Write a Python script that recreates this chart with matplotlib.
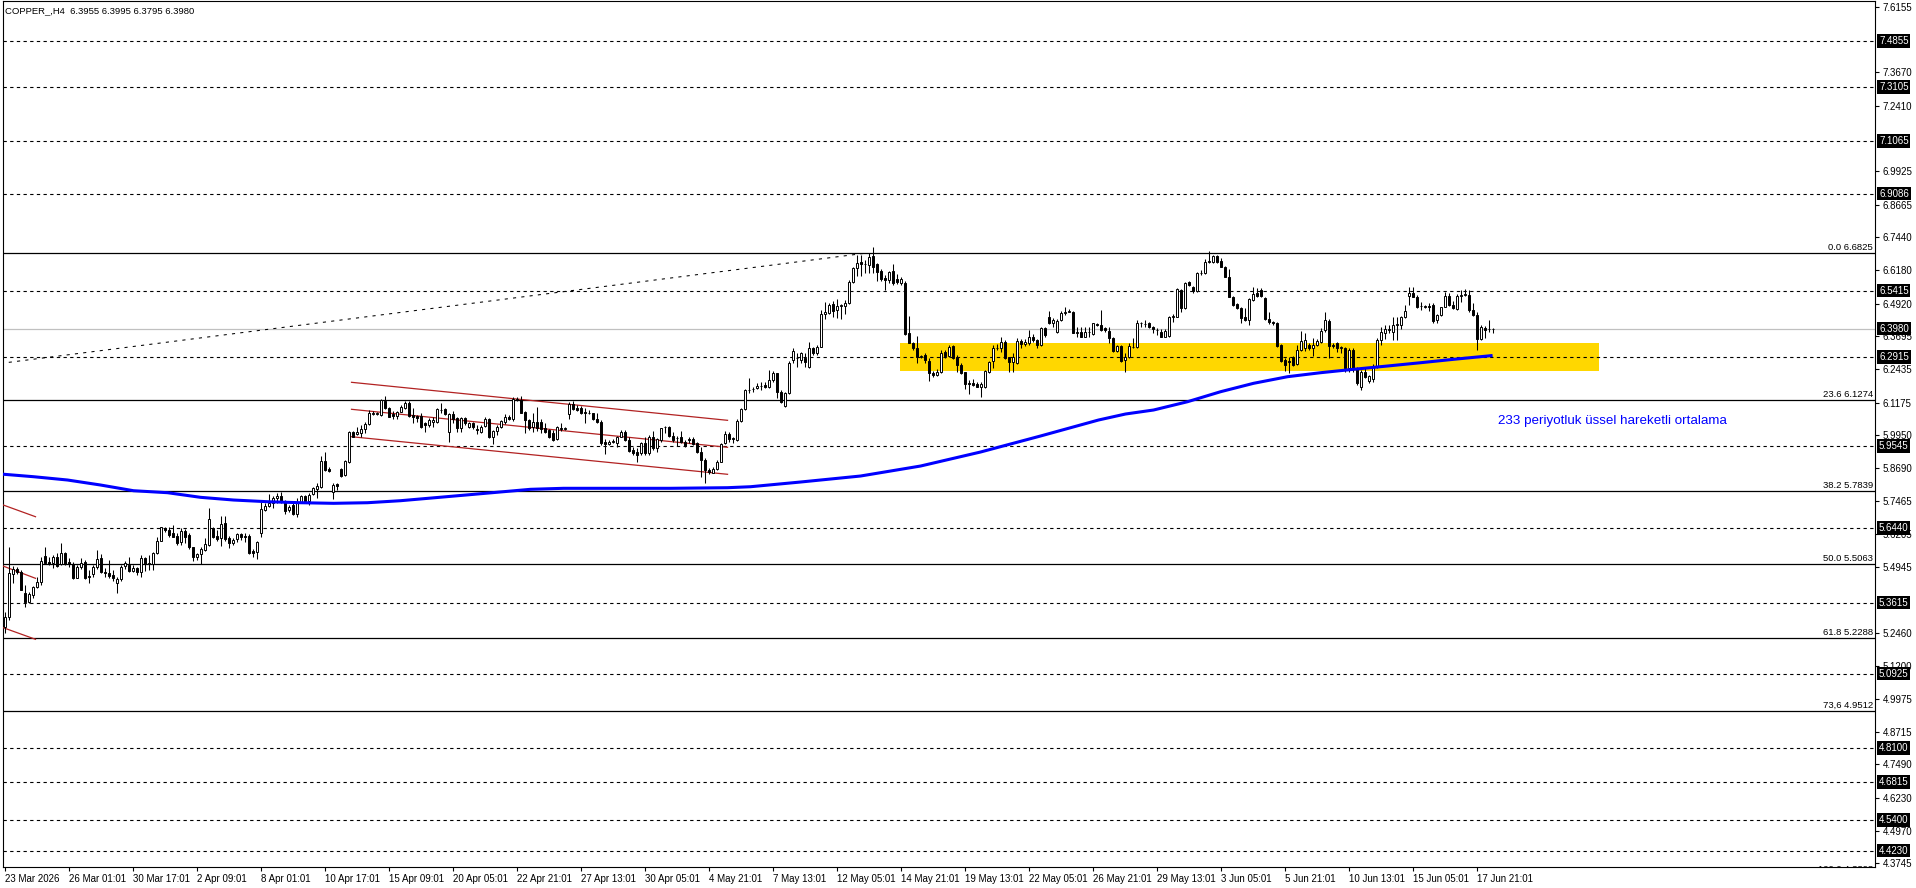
import matplotlib
matplotlib.use("Agg")
import matplotlib.pyplot as plt
import matplotlib.transforms as mtransforms
import numpy as np

plt.rcParams['font.family'] = ['Liberation Sans', 'DejaVu Sans']

title_text = "COPPER_,H4  6.3955 6.3995 6.3795 6.3980"

opens = [
5.270,5.308,5.469,5.487,5.478,5.399,5.365,5.390,5.419,5.438,
5.539,5.516,5.510,5.535,5.507,5.548,5.513,5.506,5.456,5.497,
5.516,5.462,5.469,5.497,5.529,5.478,5.475,5.466,5.434,5.449,
5.500,5.503,5.482,5.491,5.478,5.531,5.506,5.506,5.548,5.595,
5.642,5.636,5.623,5.613,5.592,5.633,5.617,5.570,5.533,5.544,
5.560,5.579,5.642,5.614,5.604,5.661,5.604,5.585,5.602,5.621,
5.613,5.613,5.557,5.554,5.623,5.712,5.727,5.739,5.758,5.765,
5.743,5.712,5.731,5.695,5.743,5.765,5.747,5.772,5.791,5.800,
5.897,5.867,5.781,5.809,5.868,5.844,5.894,6.008,5.999,6.004,
6.017,6.036,6.075,6.075,6.071,6.125,6.099,6.075,6.068,6.084,
6.096,6.115,6.071,6.067,6.068,6.039,6.033,6.046,6.046,6.090,
6.092,6.008,6.075,6.058,6.020,6.058,6.027,6.039,6.017,6.008,
6.029,6.055,5.989,6.012,6.027,6.046,6.064,6.056,6.130,6.128,
6.081,6.052,6.024,6.046,6.046,6.020,6.014,6.004,5.979,6.020,
6.018,6.075,6.111,6.099,6.096,6.084,6.080,6.077,6.056,6.043,
5.969,5.961,5.970,5.966,5.989,6.005,5.976,5.938,5.932,5.926,
5.966,5.926,5.986,5.945,5.976,6.024,6.027,5.991,5.983,5.989,
5.970,5.979,5.979,5.964,5.931,5.901,5.863,5.853,5.865,5.894,
5.964,5.998,5.983,5.976,6.048,6.092,6.165,6.168,6.172,6.181,
6.184,6.178,6.203,6.229,6.159,6.105,6.155,6.279,6.285,6.279,
6.285,6.254,6.323,6.304,6.329,6.453,6.458,6.490,6.468,6.483,
6.485,6.493,6.575,6.626,6.648,6.642,6.638,6.672,6.642,6.616,
6.588,6.582,6.616,6.584,6.571,6.569,6.380,6.345,6.323,6.289,
6.298,6.276,6.231,6.222,6.235,6.308,6.295,6.332,6.292,6.260,
6.232,6.193,6.193,6.188,6.178,6.178,6.235,6.277,6.323,6.326,
6.346,6.289,6.273,6.266,6.351,6.338,6.345,6.365,6.355,6.336,
6.399,6.440,6.420,6.386,6.430,6.458,6.462,6.462,6.382,6.386,
6.367,6.386,6.377,6.414,6.412,6.399,6.390,6.361,6.314,6.332,
6.279,6.292,6.329,6.327,6.418,6.415,6.418,6.403,6.393,6.386,
6.367,6.370,6.443,6.443,6.544,6.474,6.575,6.556,6.540,6.607,
6.607,6.651,6.651,6.674,6.655,6.632,6.594,6.519,6.491,6.477,
6.443,6.430,6.506,6.531,6.544,6.512,6.433,6.424,6.418,6.336,
6.279,6.276,6.289,6.263,6.317,6.323,6.336,6.323,6.336,6.348,
6.393,6.428,6.336,6.342,6.323,6.323,6.248,6.317,6.248,6.178,
6.235,6.201,6.206,6.254,6.355,6.382,6.393,6.386,6.412,6.412,
6.440,6.521,6.534,6.519,6.483,6.481,6.483,6.487,6.430,6.449,
6.481,6.521,6.487,6.471,6.521,6.525,6.525,6.468,6.449,6.357,
6.401,6.395,6.3955]

highs = [
5.327,5.573,5.500,5.497,5.485,5.428,5.403,5.424,5.459,5.535,
5.573,5.535,5.541,5.550,5.585,5.554,5.529,5.516,5.503,5.529,
5.522,5.485,5.503,5.560,5.545,5.491,5.522,5.485,5.459,5.503,
5.517,5.535,5.503,5.497,5.541,5.535,5.541,5.552,5.611,5.648,
5.648,5.648,5.655,5.623,5.642,5.638,5.623,5.573,5.550,5.573,
5.604,5.718,5.648,5.636,5.689,5.689,5.614,5.604,5.626,5.623,
5.623,5.621,5.564,5.594,5.743,5.739,5.772,5.765,5.775,5.781,
5.749,5.731,5.737,5.756,5.768,5.768,5.777,5.800,5.812,5.916,
5.932,5.875,5.815,5.815,5.872,5.901,6.010,6.012,6.024,6.033,
6.046,6.090,6.087,6.084,6.130,6.143,6.102,6.087,6.087,6.109,
6.124,6.124,6.096,6.071,6.077,6.046,6.058,6.064,6.096,6.118,
6.096,6.077,6.087,6.064,6.062,6.064,6.046,6.046,6.033,6.033,
6.064,6.058,6.014,6.033,6.052,6.075,6.071,6.138,6.140,6.143,
6.087,6.056,6.077,6.102,6.055,6.039,6.018,6.014,6.031,6.039,
6.027,6.119,6.125,6.109,6.105,6.096,6.090,6.080,6.077,6.052,
5.979,5.976,5.979,5.991,6.014,6.014,5.986,5.951,5.945,5.970,
5.986,5.995,6.012,5.983,6.023,6.029,6.031,6.008,5.991,6.012,
5.976,5.989,5.989,5.970,5.951,5.907,5.869,5.873,5.901,5.966,
6.012,6.008,5.989,6.055,6.096,6.170,6.212,6.178,6.191,6.197,
6.197,6.241,6.239,6.231,6.165,6.159,6.275,6.323,6.304,6.311,
6.304,6.348,6.329,6.336,6.468,6.500,6.493,6.503,6.508,6.491,
6.506,6.582,6.632,6.676,6.676,6.657,6.685,6.705,6.645,6.622,
6.600,6.617,6.642,6.604,6.594,6.579,6.445,6.348,6.370,6.298,
6.304,6.285,6.239,6.244,6.317,6.317,6.336,6.336,6.298,6.269,
6.235,6.203,6.206,6.197,6.197,6.241,6.277,6.336,6.340,6.367,
6.355,6.292,6.304,6.361,6.357,6.357,6.392,6.377,6.357,6.403,
6.403,6.466,6.437,6.433,6.466,6.481,6.471,6.466,6.405,6.403,
6.403,6.405,6.420,6.418,6.468,6.405,6.403,6.365,6.336,6.336,
6.304,6.342,6.361,6.430,6.424,6.430,6.424,6.408,6.399,6.395,
6.395,6.445,6.453,6.550,6.546,6.575,6.579,6.559,6.613,6.619,
6.660,6.693,6.676,6.676,6.664,6.635,6.622,6.521,6.496,6.481,
6.474,6.512,6.554,6.550,6.550,6.516,6.462,6.428,6.424,6.340,
6.285,6.289,6.294,6.336,6.390,6.380,6.342,6.361,6.357,6.399,
6.462,6.433,6.345,6.348,6.332,6.329,6.323,6.323,6.251,6.241,
6.248,6.222,6.264,6.361,6.403,6.411,6.411,6.440,6.443,6.445,
6.487,6.554,6.554,6.525,6.500,6.487,6.493,6.493,6.453,6.481,
6.538,6.531,6.503,6.529,6.544,6.546,6.544,6.493,6.462,6.411,
6.408,6.430,6.3995]

lows = [
5.245,5.295,5.434,5.469,5.409,5.346,5.359,5.377,5.415,5.428,
5.510,5.503,5.491,5.497,5.503,5.503,5.497,5.451,5.453,5.487,
5.451,5.437,5.459,5.487,5.472,5.459,5.453,5.444,5.396,5.444,
5.487,5.478,5.478,5.466,5.459,5.482,5.485,5.485,5.545,5.593,
5.630,5.611,5.608,5.579,5.579,5.588,5.565,5.520,5.522,5.507,
5.558,5.575,5.604,5.595,5.577,5.594,5.569,5.579,5.592,5.598,
5.592,5.544,5.533,5.526,5.611,5.708,5.724,5.718,5.737,5.737,
5.695,5.705,5.693,5.684,5.737,5.739,5.731,5.768,5.756,5.794,
5.860,5.857,5.754,5.787,5.838,5.840,5.888,5.986,5.995,5.989,
6.004,6.033,6.071,6.071,6.068,6.092,6.062,6.056,6.056,6.081,
6.092,6.064,6.039,6.046,6.020,6.008,6.027,6.024,6.042,6.077,
6.071,5.970,6.039,6.005,6.005,6.033,6.020,6.018,5.999,6.001,
6.024,5.983,5.960,5.995,6.020,6.037,6.052,6.050,6.125,6.077,
6.004,6.014,6.008,6.012,6.001,6.001,5.983,5.974,5.976,6.012,
6.014,6.055,6.090,6.087,6.073,6.042,6.075,6.052,6.039,5.957,
5.922,5.957,5.964,5.951,5.986,5.973,5.932,5.920,5.894,5.920,
5.920,5.920,5.938,5.932,5.970,6.004,5.989,5.970,5.954,5.966,
5.949,5.966,5.957,5.926,5.835,5.812,5.848,5.850,5.863,5.892,
5.961,5.970,5.966,5.973,6.046,6.090,6.155,6.159,6.168,6.165,
6.172,6.172,6.197,6.134,6.118,6.102,6.150,6.266,6.251,6.266,
6.254,6.248,6.298,6.298,6.327,6.434,6.453,6.443,6.437,6.434,
6.453,6.491,6.571,6.597,6.597,6.607,6.607,6.607,6.579,6.579,
6.544,6.571,6.563,6.566,6.563,6.374,6.342,6.317,6.266,6.285,
6.266,6.201,6.216,6.219,6.231,6.285,6.289,6.282,6.235,6.226,
6.168,6.150,6.182,6.176,6.140,6.172,6.231,6.248,6.317,6.311,
6.283,6.235,6.235,6.264,6.323,6.333,6.336,6.348,6.323,6.332,
6.367,6.415,6.403,6.382,6.427,6.449,6.459,6.380,6.367,6.365,
6.365,6.367,6.374,6.408,6.390,6.386,6.345,6.311,6.308,6.273,
6.232,6.285,6.323,6.323,6.405,6.403,6.399,6.382,6.374,6.365,
6.365,6.367,6.424,6.440,6.462,6.471,6.559,6.534,6.538,6.601,
6.604,6.647,6.647,6.645,6.630,6.592,6.516,6.485,6.472,6.418,
6.428,6.411,6.503,6.519,6.519,6.430,6.415,6.411,6.329,6.273,
6.239,6.229,6.256,6.260,6.314,6.314,6.317,6.294,6.332,6.345,
6.386,6.285,6.323,6.311,6.304,6.235,6.235,6.235,6.184,6.165,
6.210,6.193,6.197,6.248,6.336,6.357,6.380,6.355,6.355,6.395,
6.437,6.487,6.516,6.474,6.468,6.474,6.466,6.420,6.420,6.445,
6.478,6.483,6.471,6.468,6.500,6.521,6.462,6.445,6.317,6.355,
6.361,6.386,6.3795]

closes = [
5.308,5.472,5.488,5.477,5.409,5.365,5.394,5.419,5.439,5.520,
5.512,5.507,5.535,5.500,5.548,5.506,5.506,5.456,5.497,5.512,
5.456,5.457,5.497,5.527,5.478,5.472,5.463,5.453,5.449,5.497,
5.510,5.482,5.491,5.478,5.529,5.506,5.510,5.548,5.595,5.646,
5.636,5.616,5.611,5.588,5.631,5.611,5.570,5.533,5.544,5.564,
5.582,5.676,5.611,5.602,5.659,5.603,5.588,5.598,5.620,5.611,
5.608,5.548,5.548,5.589,5.714,5.728,5.739,5.758,5.765,5.741,
5.709,5.722,5.695,5.743,5.765,5.746,5.768,5.794,5.802,5.897,
5.863,5.860,5.805,5.802,5.840,5.897,6.005,5.989,6.008,6.017,
6.036,6.080,6.080,6.077,6.128,6.096,6.064,6.067,6.081,6.100,
6.115,6.068,6.064,6.061,6.027,6.033,6.052,6.052,6.092,6.090,
6.075,6.075,6.056,6.020,6.058,6.039,6.039,6.027,6.014,6.027,
6.055,5.989,6.010,6.024,6.048,6.064,6.056,6.130,6.128,6.080,
6.052,6.020,6.046,6.020,6.017,6.008,5.989,5.976,6.024,6.017,
6.020,6.111,6.092,6.090,6.077,6.077,6.077,6.056,6.043,5.966,
5.961,5.969,5.974,5.989,6.005,5.976,5.935,5.926,5.920,5.966,
5.926,5.989,5.945,5.979,6.020,6.024,5.991,5.976,5.983,5.970,
5.954,5.976,5.961,5.930,5.901,5.863,5.857,5.865,5.894,5.961,
5.999,5.979,5.979,6.048,6.092,6.165,6.165,6.169,6.182,6.181,
6.178,6.203,6.229,6.159,6.121,6.153,6.269,6.314,6.285,6.304,
6.273,6.323,6.304,6.329,6.453,6.462,6.487,6.466,6.483,6.487,
6.496,6.575,6.626,6.647,6.641,6.642,6.670,6.632,6.613,6.585,
6.582,6.613,6.569,6.575,6.584,6.377,6.345,6.323,6.289,6.295,
6.279,6.229,6.222,6.235,6.304,6.295,6.329,6.287,6.260,6.229,
6.188,6.188,6.184,6.178,6.188,6.237,6.270,6.323,6.323,6.346,
6.285,6.273,6.292,6.351,6.340,6.346,6.365,6.355,6.336,6.399,
6.374,6.420,6.430,6.428,6.458,6.459,6.464,6.382,6.386,6.367,
6.386,6.386,6.418,6.412,6.393,6.393,6.361,6.314,6.332,6.276,
6.292,6.332,6.329,6.418,6.418,6.415,6.403,6.395,6.393,6.367,
6.389,6.443,6.445,6.546,6.474,6.571,6.563,6.540,6.607,6.607,
6.651,6.651,6.672,6.651,6.632,6.594,6.519,6.487,6.474,6.437,
6.430,6.508,6.529,6.522,6.522,6.433,6.421,6.420,6.332,6.276,
6.260,6.273,6.260,6.317,6.352,6.355,6.323,6.336,6.352,6.390,
6.430,6.332,6.332,6.323,6.327,6.248,6.317,6.244,6.191,6.235,
6.216,6.219,6.256,6.355,6.386,6.395,6.395,6.412,6.414,6.440,
6.466,6.534,6.519,6.481,6.483,6.481,6.481,6.427,6.449,6.478,
6.521,6.487,6.474,6.521,6.525,6.529,6.468,6.449,6.357,6.403,
6.393,6.395,6.3980]

x_tick_labels = ["23 Mar 2026", "26 Mar 01:01", "30 Mar 17:01", "2 Apr 09:01", "8 Apr 01:01",
                 "10 Apr 17:01", "15 Apr 09:01", "20 Apr 05:01", "22 Apr 21:01", "27 Apr 13:01",
                 "30 Apr 05:01", "4 May 21:01", "7 May 13:01", "12 May 05:01", "14 May 21:01",
                 "19 May 13:01", "22 May 05:01", "26 May 21:01", "29 May 13:01", "3 Jun 05:01",
                 "5 Jun 21:01", "10 Jun 13:01", "15 Jun 05:01", "17 Jun 21:01"]
bars_per_label = 16

y_tick_values = [7.6155, 7.3670, 7.2410, 6.9925, 6.8665, 6.7440, 6.6180, 6.4920, 6.3695,
                 6.2435, 6.1175, 5.9950, 5.8690, 5.7465, 5.6205, 5.4945, 5.2460, 5.1200,
                 4.9975, 4.8715, 4.7490, 4.6230, 4.4970, 4.3745]

hline_levels = [7.4855, 7.3105, 7.1065, 6.9086, 6.5415, 6.2915, 5.9545, 5.6440,
                5.3615, 5.0925, 4.8100, 4.6815, 4.5400, 4.4230]
bid_price = 6.3980

fib_ratios = ["0.0", "23.6", "38.2", "50.0", "61.8", "73,6", "100.0"]
fib_levels = [6.6825, 6.1274, 5.7839, 5.5063, 5.2288, 4.9512, 4.3303]

fib_trend_idx = [-1.0, 215.0]
fib_trend_price = [6.266, 6.6825]

zone_idx = [223.75, 398.5]
zone_price = [6.2384, 6.3430]

channel_a_idx = [86.75, 180.75]
channel_a_upper = [6.1945, 6.0507]
channel_a_mid = [6.0924, 5.9486]
channel_a_lower = [5.9887, 5.8465]

channel_b_idx = [-1.0, 7.75]
channel_b_upper = [5.7341, 5.6860]
channel_b_mid = [5.5030, 5.4530]
channel_b_lower = [5.2699, 5.2223]

ema_idx = [-1, 7.25, 15.75, 24, 32.25, 40.75, 49, 57.25, 65.75, 74, 82.25, 90.75, 99,
           115.25, 131.5, 139.75, 166.5, 180.75, 186.5, 199, 214, 229, 244, 259, 273.5,
           280.25, 287.25, 295.75, 304, 312.25, 320.75, 329, 337.25, 345.75, 354, 362.25,
           370.75, 372]
ema_val = [5.8476, 5.8374, 5.8249, 5.8060, 5.7844, 5.7769, 5.7594, 5.7492, 5.7428, 5.7390,
           5.7367, 5.7390, 5.7466, 5.7680, 5.7897, 5.7935, 5.7935, 5.7958, 5.7995, 5.8173,
           5.8400, 5.8778, 5.9308, 5.9914, 6.0519, 6.0746, 6.0897, 6.1211, 6.1589, 6.1907,
           6.2157, 6.2308, 6.2437, 6.2562, 6.2686, 6.2815, 6.2940, 6.2960]
ema_label = "233 periyotluk üssel hareketli ortalama"
ema_label_pos = (373.25, 6.050)

# ---------------- figure ----------------
W, H = 1916, 888
fig = plt.figure(figsize=(W / 100, H / 100), dpi=100, facecolor='white')
ax_left, ax_right, ax_top, ax_bottom = 2.5, 1875, 1, 867
ax = fig.add_axes([ax_left / W, 1 - ax_bottom / H, (ax_right - ax_left) / W, (ax_bottom - ax_top) / H])
ax.set_facecolor('white')

ax.set_xlim(-0.5, 467.6)
ax.set_ylim(4.3609, 7.6370)

# yellow zone
ax.fill_between(zone_idx, zone_price[0], zone_price[1], color='#FFD700', lw=0, zorder=1)

# horizontal levels
for lv in hline_levels:
    ax.axhline(lv, color='black', lw=0.8, linestyle=(0, (3, 3)), zorder=2)
ax.axhline(bid_price, color='#C0C0C0', lw=0.9, zorder=2)
for lv in fib_levels:
    ax.axhline(lv, color='black', lw=0.9, zorder=2)

# fib trend line
ax.plot(fib_trend_idx, fib_trend_price, color='black', lw=0.75, linestyle=(0, (3, 5)), zorder=2)

# channels
for yy in (channel_a_upper, channel_a_mid, channel_a_lower):
    ax.plot(channel_a_idx, yy, color='#B22222', lw=0.9, zorder=3)
for yy in (channel_b_upper, channel_b_mid, channel_b_lower):
    ax.plot(channel_b_idx, yy, color='#B22222', lw=0.9, zorder=3)

# candles
o = np.array(opens); h = np.array(highs); l = np.array(lows); c = np.array(closes)
x = np.arange(len(c))
up = c >= o
ax.vlines(x, l, h, color='black', lw=0.75, zorder=4)
body_bottom = np.minimum(o, c)
body_h = np.maximum(np.abs(c - o), 0.0006)
ax.bar(x, body_h, bottom=body_bottom, width=0.5,
       color=np.where(up, 'white', 'black'), edgecolor='black', linewidth=0.7, zorder=5)

# EMA
ax.plot(ema_idx, ema_val, color='#0000FF', lw=2.2, zorder=6, solid_capstyle='butt')
ax.text(ema_label_pos[0], ema_label_pos[1], ema_label, color='#0000FF', fontsize=9.6,
        ha='left', va='center', zorder=7)

# fib labels
blend = mtransforms.blended_transform_factory(ax.transAxes, ax.transData)
fib_tr = mtransforms.offset_copy(blend, fig=fig, x=-2, y=1, units='dots')
for r, lv in zip(fib_ratios, fib_levels):
    ax.text(1.0, lv, f"{r} {lv:.4f}", transform=fib_tr, ha='right', va='bottom',
            fontsize=6.8, color='black', clip_on=True, zorder=7)

# axes styling
for sp in ax.spines.values():
    sp.set_color('black')
    sp.set_linewidth(0.8)

ax.yaxis.tick_right()
ax.set_yticks(y_tick_values)
ax.set_yticklabels([f"{v:.4f}" for v in y_tick_values])
ax.tick_params(axis='y', which='both', right=True, left=False, labelright=True, labelleft=False,
               direction='out', length=3, width=0.8, pad=2.5, labelsize=7, colors='black')

xt = [i * bars_per_label for i in range(len(x_tick_labels))]
ax.set_xticks(xt)
ax.set_xticklabels(x_tick_labels, ha='left')
ax.tick_params(axis='x', direction='out', length=3, width=0.8, pad=2, labelsize=7, colors='black')

# price boxes on the right axis
box_tr = mtransforms.offset_copy(blend, fig=fig, x=4, y=0, units='dots')
for lv in hline_levels + [bid_price]:
    ax.text(1.0, lv, f"{lv:.4f}", transform=box_tr, ha='left', va='center', fontsize=7,
            color='white', clip_on=False, zorder=10,
            bbox=dict(facecolor='black', edgecolor='none', pad=1.3))

fig.text(5 / W, 1 - 11 / H, title_text, fontsize=6.8, ha='left', va='center', color='black')

fig.savefig("out.png", dpi=100, facecolor='white')
